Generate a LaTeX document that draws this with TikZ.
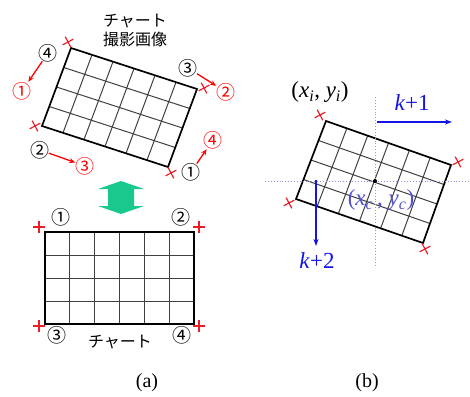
\documentclass[tikz,border=0pt]{standalone}
\usepackage{fontspec}
\setmainfont{Liberation Serif}
\newfontfamily\jp{Noto Sans CJK JP}
\usetikzlibrary{calc,arrows.meta}

\definecolor{mint}{RGB}{25,200,140}
\definecolor{kblue}{RGB}{20,20,230}
\definecolor{cblue}{RGB}{80,80,210}
\definecolor{dotblue}{RGB}{150,150,235}
\definecolor{xred}{RGB}{235,30,40}

\begin{document}
\begin{tikzpicture}
    [x=1pt, y=-1pt,
    inner sep=1pt,
    frame/.style={draw, line width=1.7pt, line join=miter},
    gridline/.style={draw, line width=1pt, color=black!75},
    crossmark/.style={minimum size=12pt, inner sep=0pt, outer sep=0pt},
    crossline/.style={draw=xred, line width=1.2pt},
    num/.style={font=\jp\fontsize{19}{19}\selectfont},
    rnum/.style={num, text=red},
    jtext/.style={font=\jp\fontsize{16}{19}\selectfont, align=center},
    redarrow/.style={draw=red, line width=1.3pt, -{Stealth[length=6pt,width=5pt]}, shorten >=-1pt, shorten <=-2pt},
    bluearrow/.style={draw=kblue, line width=1.4pt, -{Stealth[length=7pt,width=5pt]}},
    dotline/.style={draw=dotblue, dotted, line width=0.9pt},
    mlabel/.style={font=\fontsize{23}{23}\selectfont},
    caption/.style={font=\fontsize{20}{20}\selectfont}
    ]
    \useasboundingbox (0,0) rectangle (470,396);

    % Ecken der drei Tafeln
    \coordinate (A1) at (71,48);   \coordinate (A2) at (197,89);
    \coordinate (A3) at (168,167); \coordinate (A4) at (42,126);
    \coordinate (B1) at (45,232);  \coordinate (B2) at (194,232);
    \coordinate (B3) at (194,324); \coordinate (B4) at (45,324);
    \coordinate (C1) at (326,121); \coordinate (C2) at (451,165);
    \coordinate (C3) at (423,243); \coordinate (C4) at (296,199);

    % Gitter
    \foreach \c in {A,B,C}{
        \foreach \i in {1,...,5}
            \path[gridline] ($(\c1)!\i/6!(\c2)$) -- ($(\c4)!\i/6!(\c3)$);
        \foreach \j in {1,2,3}
            \path[gridline] ($(\c1)!\j/4!(\c4)$) -- ($(\c2)!\j/4!(\c3)$);
        \path[frame] (\c1) -- (\c2) -- (\c3) -- (\c4) -- cycle;
    }

    % Kreuze
    \foreach \x/\y/\r [count=\k] in {68/42/28, 204/88/28, 35/126/28, 171/173/28,
        39/227/0, 199/227/0, 39/326/0, 199/326/0,
        320/115/28, 458/162/28, 289/203/28, 425/249/28}{
        \node[crossmark, rotate=\r] (cross\k) at (\x,\y) {};
        \path[crossline] (cross\k.north) -- (cross\k.south);
        \path[crossline] (cross\k.west) -- (cross\k.east);
    }

    % Aufnahme
    \node[jtext] (title) at (135,30) {チャート\\撮影画像};
    \node[num] (n4) at (48,53) {④};
    \node[rnum] (r1) at (22,91) {①};
    \node[num] (n3) at (188,68) {③};
    \node[rnum] (r2) at (226,92) {②};
    \node[num] (n2) at (40,150) {②};
    \node[rnum] (r3) at (85,166) {③};
    \node[num] (n1) at (191,172) {①};
    \node[rnum] (r4) at (213,140) {④};
    \path[redarrow] (n4) -- (r1);
    \path[redarrow] (n3) -- (r2);
    \path[redarrow] (n2) -- (r3);
    \path[redarrow] (n1) -- (r4);

    % Doppelpfeil
    \fill[mint] (121,181) -- (144,189) -- (134,189) -- (134,206) -- (144,206)
        -- (121,214) -- (98,206) -- (108,206) -- (108,189) -- (98,189) -- cycle;

    % Vorlage
    \node[num] (b1) at (61,217) {①};
    \node[num] (b2) at (181,217) {②};
    \node[num] (b3) at (57,335) {③};
    \node[num] (b4) at (182,335) {④};
    \node[jtext] (chart) at (120,342) {チャート};

    % rechts
    \coordinate (vtop) at (375,97);  \coordinate (vbot) at (375,267);
    \coordinate (hleft) at (265,181); \coordinate (hright) at (470,181);
    \path[dotline] (vtop) -- (vbot);
    \path[dotline] (hleft) -- (hright);
    \fill (375,181) circle (2pt);
    \node[mlabel] (xi) at (320,92) {(\textit{x}\textsubscript{\textit{i}}, \textit{y}\textsubscript{\textit{i}})};
    \node[mlabel, text=cblue] (xc) at (381,200) {(\textit{x}\textsubscript{\textit{c}}\,, \textit{y}\textsubscript{\textit{c}})};
    \coordinate (k1s) at (377,122); \coordinate (k1e) at (452,122);
    \coordinate (k2s) at (316,180); \coordinate (k2e) at (316,246);
    \path[bluearrow] (k1s) -- (k1e);
    \path[bluearrow] (k2s) -- (k2e);
    \node[mlabel, text=kblue] (k1) at (412,103) {\textit{k}+1};
    \node[mlabel, text=kblue] (k2) at (317,261) {\textit{k}+2};

    \node[caption] (capa) at (147,383) {(a)};
    \node[caption] (capb) at (367,383) {(b)};
\end{tikzpicture}
\end{document}
